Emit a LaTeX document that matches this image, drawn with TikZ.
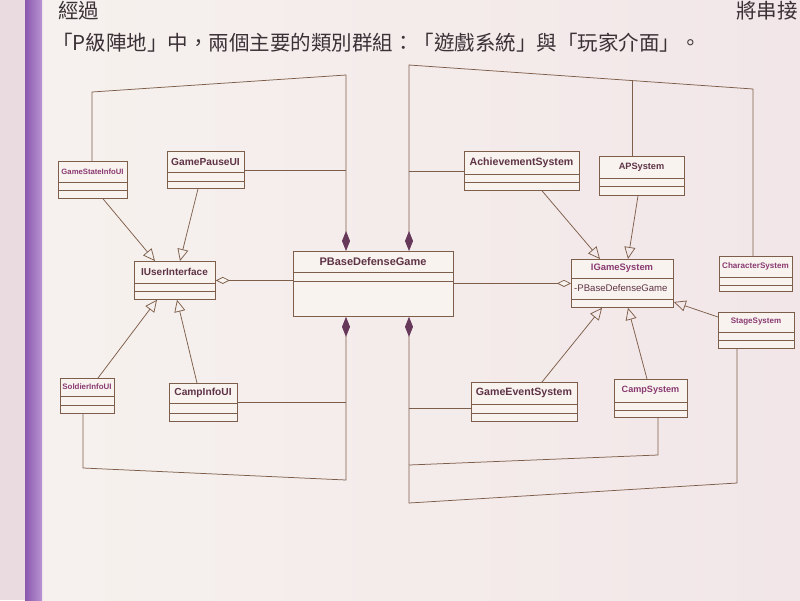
\documentclass[tikz,border=0pt]{standalone}
\usepackage{fontspec}
\setmainfont{Liberation Sans}
\newfontfamily\cjk{Noto Sans CJK TC}
\usetikzlibrary{arrows.meta}
\definecolor{ln}{HTML}{7D5E4A}
\definecolor{boxfill}{HTML}{F8F3EE}
\definecolor{namecol}{HTML}{5F3347}
\definecolor{magcol}{HTML}{8A3A72}
\definecolor{dia}{HTML}{66385A}
\definecolor{page}{HTML}{F6F1EE}
\definecolor{pageR}{HTML}{F2E6E8}
\definecolor{leftpg}{HTML}{EADBE1}
\definecolor{stripA}{HTML}{8A58AE}
\definecolor{stripB}{HTML}{B894D2}
\definecolor{hdrcol}{HTML}{3A3236}
\newcommand\umlclass[9]{%
  \node[cls, anchor=north west, minimum width={#4pt-#2pt}, minimum height={#5pt-#3pt}] (#1) at (#2,#3) {};
  \draw[div] (#2,#6) -- (#4,#6);
  \draw[div] (#2,#7) -- (#4,#7);
  \node[#8] (#1-name) at ({(#2+#4)/2},{(#3+#6)/2}) {#9};
}
\begin{document}
\begin{tikzpicture}[x=1pt,y=-1pt,
  cls/.style={draw=ln, fill=boxfill, line width=0.8pt, inner sep=0pt, rectangle},
  div/.style={draw=ln, line width=0.8pt},
  nm/.style={font=\fontsize{#1}{#1}\selectfont\bfseries, text=namecol, inner sep=0pt},
  nmm/.style={font=\fontsize{#1}{#1}\selectfont\bfseries, text=magcol, inner sep=0pt},
  conn/.style={draw=ln, line width=0.75pt},
  gen/.style={conn, -{Triangle[open, length=12pt, width=11pt, line width=0.75pt]}},
  compo/.style={conn, {Diamond[length=20pt, width=8pt, fill=dia, color=dia]}-},
  aggr/.style={conn, {Diamond[length=14pt, width=7pt, fill=boxfill]}-},
  hdr/.style={anchor=base west, font=\cjk\fontsize{20.5}{20.5}\selectfont, text=hdrcol, inner sep=0pt},
]
\useasboundingbox (0,0) rectangle (800,600);
% page background
\shade[left color=page, right color=pageR] (42,0) rectangle (800,600);
\fill[leftpg] (0,0) rectangle (25,600);
\shade[left color=stripA, right color=stripB] (25,0) rectangle (42,600);

% header text
\node[hdr] (h1a) at (58,18.5) {經過};
\node[hdr] (h1b) at (736,18.5) {將串接};
\node[hdr] (h2) at (52,50) {「P級陣地」中，兩個主要的類別群組：「遊戲系統」與「玩家介面」。};

% classes
\umlclass{gs}{58}{161}{127}{198}{182}{190}{nmm=7.7}{GameStateInfoUI}
\umlclass{gp}{167}{151}{244}{188}{172}{181}{nm=10.2}{GamePauseUI}
\umlclass{iu}{134}{261}{215}{299}{283}{291}{nm=10}{IUserInterface}
\umlclass{so}{60}{378}{114}{413}{396}{405}{nmm=7.9}{SoldierInfoUI}
\umlclass{ci}{169}{383}{237}{421}{403}{413}{nm=10.2}{CampInfoUI}
\umlclass{pb}{293}{251}{453}{316}{272}{281}{nm=11}{PBaseDefenseGame}
\umlclass{ac}{464}{151}{579}{190}{174}{182}{nm=10.6}{AchievementSystem}
\umlclass{ap}{599}{156}{684}{195}{178}{186}{nm=9.2}{APSystem}
\umlclass{ig}{571}{259}{673}{307}{278}{299}{nmm=9.4}{IGameSystem}
\node[anchor=west, inner sep=0pt, font=\fontsize{9.6}{9.6}\selectfont, text=namecol] (ig-attr) at (574,288.5) {-PBaseDefenseGame};
\umlclass{ch}{719}{256}{792}{291}{277}{285}{nmm=8.1}{CharacterSystem}
\umlclass{st}{718}{312}{794}{348}{332}{340}{nmm=8}{StageSystem}
\umlclass{ge}{471}{382}{577}{421}{404}{413}{nm=10.6}{GameEventSystem}
\umlclass{cs}{614}{379}{687}{417}{402}{410}{nmm=9.1}{CampSystem}

% compositions (top)
\draw[compo] (346,0 |- pb.north) -- (346,75) -- (92,92) -- (92,0 |- gs.north);
\draw[conn] (gp.east) -- (346,0 |- gp.east);
\draw[compo] (409,0 |- pb.north) -- (409,65) -- (753,89) -- (753,0 |- ch.north);
\draw[conn] (ac.west) -- (409,0 |- ac.west);
\draw[conn] (632,0 |- ap.north) -- (632,80.6);

% aggregations
\draw[aggr] (iu.east) -- (iu.east -| pb.west);
\draw[aggr] (ig.west) -- (ig.west -| pb.east);

% generalizations
\draw[gen] (103,0 |- gs.south) -- (155,0 |- iu.north);
\draw[gen] (198,0 |- gp.south) -- (180,0 |- iu.north);
\draw[gen] (98,0 |- so.north) -- (157,0 |- iu.south);
\draw[gen] (197,0 |- ci.north) -- (177,0 |- iu.south);
\draw[gen] (542,0 |- ac.south) -- (600,0 |- ig.north);
\draw[gen] (638,0 |- ap.south) -- (628,0 |- ig.north);
\draw[gen] (st.west |- 0,317) -- (ig.east |- 0,302);
\draw[gen] (542,0 |- ge.north) -- (602,0 |- ig.south);
\draw[gen] (647,0 |- cs.north) -- (628,0 |- ig.south);

% compositions (bottom)
\draw[compo] (346,0 |- pb.south) -- (346,480) -- (83,468) -- (83,0 |- so.south);
\draw[conn] (ci.east) -- (346,0 |- ci.east);
\draw[compo] (409,0 |- pb.south) -- (409,503) -- (737,483) -- (737,0 |- st.south);
\draw[conn] (ge.west |- 0,408) -- (409,408);
\draw[conn] (658,0 |- cs.south) -- (658,455) -- (409,465);
\end{tikzpicture}
\end{document}
